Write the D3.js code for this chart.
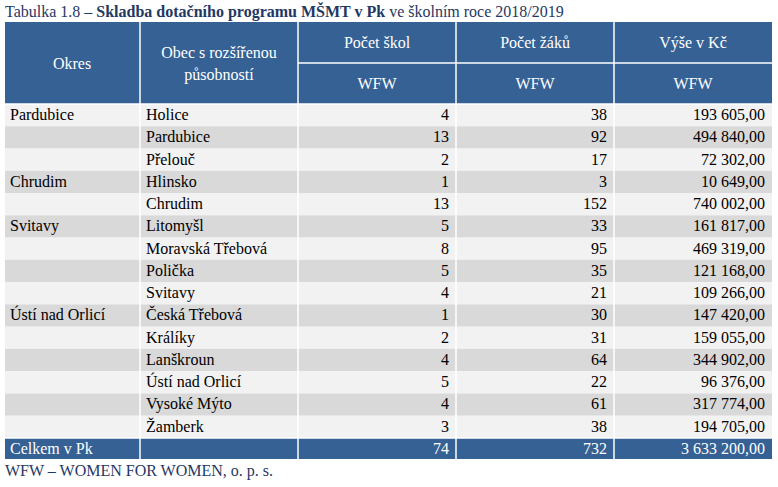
<!DOCTYPE html>
<html><head><meta charset="utf-8">
<script src="https://cdn.jsdelivr.net/npm/d3@7"></script>
<style>body{margin:0;background:#fff}svg text{font-family:"Liberation Serif","Times New Roman",serif}</style>
</head><body><svg id="c" width="778" height="487"></svg>
<script>
var okres = ["Pardubice","","","Chrudim","","Svitavy","","","","Ústí nad Orlicí","","","","",""];
var obec = ["Holice","Pardubice","Přelouč","Hlinsko","Chrudim","Litomyšl","Moravská Třebová","Polička","Svitavy","Česká Třebová","Králíky","Lanškroun","Ústí nad Orlicí","Vysoké Mýto","Žamberk"];
var skoly = [4,13,2,1,13,5,8,5,4,1,2,4,5,4,3];
var zaci = [38,92,17,3,152,33,95,35,21,30,31,64,22,61,38];
var castka = ["193 605,00","494 840,00","72 302,00","10 649,00","740 002,00","161 817,00","469 319,00","121 168,00","109 266,00","147 420,00","159 055,00","344 902,00","96 376,00","317 774,00","194 705,00"];
var total = ["Celkem v Pk","","74","732","3 633 200,00"];

var svg = d3.select("#c");
var blue = "#356194";
var cols = [5,140,298,456,614,772];
var rowY = d3.scaleLinear().domain([0,15]).range([104,438]);
var rows = d3.range(15);
var FF = "Liberation Serif, Times New Roman, serif";

// title
var t = svg.append("text").attr("x",5).attr("y",17).attr("font-size",16).attr("fill","#1f3864").attr("font-family",FF);
t.append("tspan").text("Tabulka 1.8 – ");
t.append("tspan").attr("font-weight","bold").text("Skladba dotačního programu MŠMT v Pk");
t.append("tspan").text(" ve školním roce 2018/2019");

// header
svg.append("rect").attr("x",5).attr("y",22).attr("width",767).attr("height",82).attr("fill",blue);
var hs = {fill:"#fff","font-size":16,"text-anchor":"middle","font-family":FF};
function txt(x,y,s,o){var e=svg.append("text").attr("x",x).attr("y",y).text(s);for(var k in o)e.attr(k,o[k]);return e;}
txt(72,69,"Okres",hs);
txt(219,58,"Obec s rozšířenou",hs);
txt(219,80,"působností",hs);
["Počet škol","Počet žáků","Výše v Kč"].forEach(function(s,i){
  var cx=(cols[i+2]+cols[i+3])/2;
  txt(cx,48,s,hs); txt(cx,89,"WFW",hs);
});

// body rows
svg.selectAll("rect.r").data(rows).join("rect").attr("class","r")
  .attr("x",5).attr("width",767).attr("y",function(d){return rowY(d);})
  .attr("height",rowY(1)-rowY(0)).attr("fill",function(d){return d%2?"#d9d9d9":"#f2f2f2";});
var body = svg.append("g");
function rowText(arr,x,anchor){
  body.append("g").selectAll("text").data(arr).join("text")
    .attr("font-family",FF).attr("font-size",16).attr("fill","#000")
    .attr("x",x).attr("y",function(d,i){return rowY(i)+16;}).attr("text-anchor",anchor).text(function(d){return d;});
}
rowText(okres,10,"start");
rowText(obec,146,"start");
rowText(skoly,cols[3]-7,"end");
rowText(zaci,cols[4]-7,"end");
rowText(castka,cols[5]-7,"end");

// total row
svg.append("rect").attr("x",5).attr("y",438).attr("width",767).attr("height",21).attr("fill",blue);
function ttxt(x,s,anchor){svg.append("text").attr("x",x).attr("y",454).attr("font-family",FF).attr("font-size",16).attr("fill","#fff").attr("text-anchor",anchor).text(s);}
ttxt(10,total[0],"start");
[2,3,4].forEach(function(i){ttxt(cols[i+1]-7,total[i],"end");});

// grid lines
var lines = svg.append("g").attr("stroke","#fff").attr("stroke-width",1.5);
[140,298,456,614].forEach(function(x){lines.append("line").attr("x1",x).attr("x2",x).attr("y1",22).attr("y2",459);});
lines.append("line").attr("x1",298).attr("x2",772).attr("y1",63).attr("y2",63);
lines.append("line").attr("x1",5).attr("x2",772).attr("y1",104).attr("y2",104);
lines.append("line").attr("x1",5).attr("x2",772).attr("y1",438).attr("y2",438);

svg.append("text").attr("x",5).attr("y",476).attr("font-family",FF).attr("font-size",16).attr("fill","#1f3864").text("WFW – WOMEN FOR WOMEN, o. p. s.");
</script></body></html>
